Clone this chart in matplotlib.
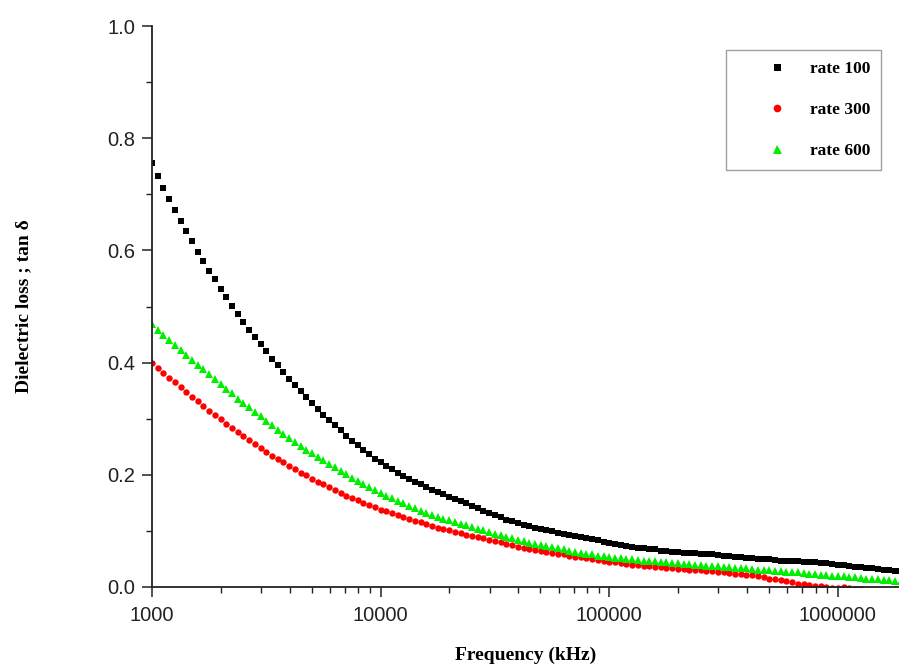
#!/usr/bin/env python3
"""Dielectric loss (tan delta) versus frequency for three rates."""

import matplotlib

matplotlib.use("Agg")
import matplotlib.pyplot as plt
import numpy as np
from matplotlib.ticker import FixedLocator, LogLocator, MultipleLocator, NullFormatter


# Frequency sweep: 40 log-spaced points per decade starting at 1000 kHz.
POINTS_PER_DECADE = 40

RATE_100 = [
    0.755, 0.733, 0.712, 0.692, 0.672, 0.653, 0.635, 0.617, 0.598, 0.581,
    0.564, 0.549, 0.532, 0.517, 0.501, 0.487, 0.472, 0.459, 0.446, 0.433,
    0.420, 0.407, 0.395, 0.383, 0.371, 0.360, 0.349, 0.338, 0.328, 0.318,
    0.307, 0.298, 0.288, 0.279, 0.270, 0.261, 0.253, 0.244, 0.237, 0.229,
    0.222, 0.216, 0.210, 0.204, 0.198, 0.193, 0.188, 0.183, 0.178, 0.173,
    0.169, 0.165, 0.161, 0.157, 0.153, 0.149, 0.145, 0.140, 0.136, 0.132,
    0.128, 0.124, 0.120, 0.117, 0.114, 0.111, 0.108, 0.106, 0.103, 0.101,
    0.099, 0.097, 0.095, 0.093, 0.091, 0.089, 0.087, 0.085, 0.083, 0.081,
    0.079, 0.077, 0.075, 0.073, 0.072, 0.070, 0.069, 0.068, 0.067, 0.065,
    0.064, 0.063, 0.062, 0.061, 0.061, 0.060, 0.059, 0.058, 0.058, 0.057,
    0.056, 0.055, 0.054, 0.053, 0.052, 0.051, 0.050, 0.049, 0.049, 0.048,
    0.047, 0.047, 0.046, 0.046, 0.045, 0.044, 0.044, 0.043, 0.042, 0.041,
    0.040, 0.039, 0.038, 0.036, 0.035, 0.034, 0.033, 0.032, 0.031, 0.030,
    0.029, 0.028,
]

RATE_300 = [
    0.399, 0.390, 0.382, 0.373, 0.365, 0.356, 0.348, 0.339, 0.331, 0.323,
    0.314, 0.306, 0.299, 0.291, 0.284, 0.276, 0.269, 0.262, 0.255, 0.248,
    0.241, 0.234, 0.228, 0.222, 0.216, 0.210, 0.204, 0.199, 0.193, 0.188,
    0.183, 0.178, 0.173, 0.168, 0.163, 0.159, 0.155, 0.150, 0.146, 0.142,
    0.138, 0.135, 0.131, 0.128, 0.124, 0.121, 0.118, 0.115, 0.112, 0.109,
    0.106, 0.103, 0.101, 0.098, 0.096, 0.093, 0.091, 0.089, 0.087, 0.084,
    0.082, 0.080, 0.077, 0.075, 0.072, 0.070, 0.068, 0.066, 0.064, 0.062,
    0.061, 0.059, 0.058, 0.056, 0.054, 0.053, 0.051, 0.050, 0.048, 0.047,
    0.045, 0.044, 0.042, 0.041, 0.040, 0.039, 0.038, 0.037, 0.036, 0.035,
    0.034, 0.033, 0.032, 0.032, 0.031, 0.030, 0.030, 0.029, 0.028, 0.027,
    0.026, 0.025, 0.024, 0.023, 0.022, 0.021, 0.019, 0.017, 0.015, 0.014,
    0.012, 0.010, 0.008, 0.006, 0.005, 0.003, 0.002, 0.001, 0.000, -0.001,
    -0.002, 0.000, -0.002, -0.003, -0.004,
]

RATE_600 = [
    0.468, 0.459, 0.450, 0.441, 0.432, 0.423, 0.414, 0.405, 0.396, 0.388,
    0.379, 0.370, 0.362, 0.353, 0.345, 0.336, 0.328, 0.320, 0.312, 0.304,
    0.296, 0.288, 0.280, 0.273, 0.266, 0.259, 0.252, 0.245, 0.238, 0.232,
    0.226, 0.219, 0.213, 0.207, 0.201, 0.195, 0.189, 0.184, 0.178, 0.173,
    0.168, 0.163, 0.158, 0.153, 0.149, 0.145, 0.140, 0.136, 0.132, 0.129,
    0.125, 0.122, 0.119, 0.116, 0.113, 0.110, 0.107, 0.104, 0.101, 0.098,
    0.095, 0.092, 0.089, 0.087, 0.084, 0.082, 0.079, 0.077, 0.075, 0.073,
    0.071, 0.069, 0.067, 0.065, 0.063, 0.061, 0.059, 0.058, 0.056, 0.055,
    0.054, 0.052, 0.051, 0.050, 0.049, 0.048, 0.047, 0.046, 0.046, 0.045,
    0.044, 0.043, 0.042, 0.041, 0.041, 0.040, 0.039, 0.038, 0.038, 0.037,
    0.036, 0.035, 0.034, 0.034, 0.033, 0.032, 0.031, 0.030, 0.030, 0.029,
    0.028, 0.027, 0.027, 0.026, 0.025, 0.024, 0.023, 0.022, 0.021, 0.020,
    0.020, 0.019, 0.018, 0.017, 0.016, 0.015, 0.015, 0.014, 0.013, 0.012,
    0.011, 0.011,
]

SERIES = [
    ("rate 100", RATE_100, "s", "black", 4.2),
    ("rate 300", RATE_300, "o", "#ff0000", 4.6),
    ("rate 600", RATE_600, "^", "#00ee00", 5.4),
]

X_TICKS = [1000, 10000, 100000, 1000000]
X_LIMITS = (1000, 1.85e6)
Y_LIMITS = (0.0, 1.0)

SERIF = ["Liberation Serif", "DejaVu Serif"]
SANS = ["Liberation Sans", "DejaVu Sans"]


def sweep(count):
  return np.logspace(3, 3 + (count - 1) / POINTS_PER_DECADE, count)


def main():
  plt.rcParams["font.family"] = SANS
  fig = plt.figure(figsize=(8.99, 6.68), dpi=100)
  ax = fig.add_axes([0.169, 0.1213, 0.831, 0.8397])

  for label, values, marker, color, size in SERIES:
    ax.plot(
        sweep(len(values)), values, linestyle="none", marker=marker,
        markersize=size, color=color, markeredgewidth=0, label=label)

  ax.set_xscale("log")
  ax.set_xlim(*X_LIMITS)
  ax.set_ylim(*Y_LIMITS)

  ax.xaxis.set_major_locator(FixedLocator(X_TICKS))
  ax.set_xticklabels([str(t) for t in X_TICKS])
  ax.xaxis.set_minor_locator(LogLocator(base=10, subs=np.arange(2, 10)))
  ax.xaxis.set_minor_formatter(NullFormatter())
  ax.yaxis.set_major_locator(MultipleLocator(0.2))
  ax.yaxis.set_minor_locator(MultipleLocator(0.1))
  ax.yaxis.set_major_formatter(plt.FuncFormatter(lambda v, _: f"{v:.1f}"))

  for side in ("top", "right"):
    ax.spines[side].set_visible(False)
  for side in ("left", "bottom"):
    ax.spines[side].set_linewidth(1.3)
    ax.spines[side].set_color("#222222")

  ax.tick_params(
      which="major", direction="out", length=7, width=1.1,
      labelsize=14.5, pad=5, colors="#222222")
  ax.tick_params(which="minor", direction="out", length=4, width=1.0,
                 colors="#222222")
  ax.tick_params(axis="x", which="major", pad=7)

  ax.set_xlabel("Frequency (kHz)", fontsize=14, fontweight="bold",
                family=SERIF, labelpad=15)
  ax.set_ylabel("Dielectric loss ; tan \u03b4", fontsize=14, fontweight="bold",
                family=SERIF, labelpad=54)

  legend = ax.legend(
      loc="upper right", bbox_to_anchor=(0.976, 0.957), numpoints=1,
      frameon=True, fancybox=False, borderpad=0.6, handlelength=4.67,
      handletextpad=-0.4, labelspacing=1.45, borderaxespad=0.0,
      markerscale=1.2,
      prop={"family": SERIF, "weight": "bold", "size": 12.5})
  legend.get_frame().set_edgecolor("#888888")
  legend.get_frame().set_linewidth(1.0)

  fig.savefig("out.png", dpi=100)
  plt.close(fig)


if __name__ == "__main__":
  main()
